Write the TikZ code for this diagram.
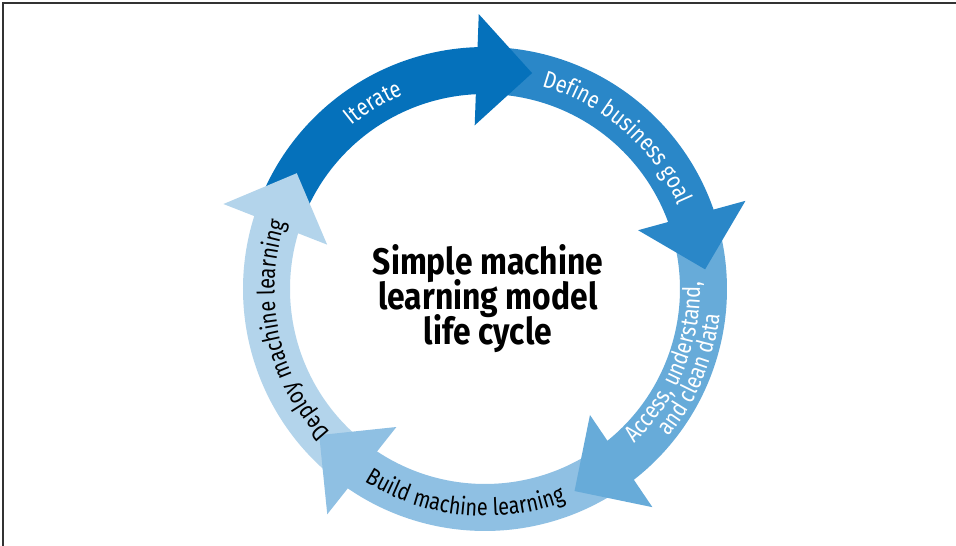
\documentclass[tikz,border=0pt]{standalone}
\usepackage{fontspec}
\setmainfont{Fira Sans}
\newfontfamily\lblfont{Fira Sans}[FakeStretch=0.83]
\newfontfamily\ttlfont{Fira Sans}[FakeStretch=0.86]
\usetikzlibrary{decorations.text}
\definecolor{cIter}{HTML}{0571BB}
\definecolor{cDef}{HTML}{2A87C8}
\definecolor{cAcc}{HTML}{67ABD9}
\definecolor{cBld}{HTML}{8FC0E3}
\definecolor{cDep}{HTML}{B3D4EB}
\definecolor{cFrame}{HTML}{333333}
\tikzset{
  frameline/.style={draw=cFrame, line width=1.8pt},
  ringlabel/.style={decorate, decoration={text along path, text align=center, text={#1}}},
}
\newcommand\lblW{|\lblfont\fontsize{24}{26}\selectfont\color{white}|}
\newcommand\lblB{|\lblfont\fontsize{24}{26}\selectfont\color{black}|}
\newcommand\ttlsetup{\ttlfont\bfseries\fontsize{37}{35}\selectfont\lineskiplimit=-40pt\lineskip=0pt\relax}
\begin{document}
\begin{tikzpicture}[x=1pt,y=1pt]
\useasboundingbox (-485,-257) rectangle (471,289);
\fill[white] (-485,-257) rectangle (471,289);
\draw[frameline] (-482,-257) -- (-482,286) -- (471,286);
% shafts
\foreach \col/\tpprev/\tp in {cIter/148.4/77.7, cDef/77.7/5.1, cAcc/5.1/-66.1, cBld/-66.1/-138.6, cDep/-138.6/-211.6}{
  \pgfmathsetmacro\st{\tpprev+7.5}
  \pgfmathsetmacro\en{\tp+13.5}
  \fill[\col] (\st:242) arc[start angle=\st, end angle=\en, radius=242]
     -- (\en:195) arc[start angle=\en, end angle=\st, radius=195] -- cycle;
}
% heads
\foreach \col/\tp in {cIter/77.7, cDef/5.1, cAcc/-66.1, cBld/-138.6, cDep/-211.6}{
  \pgfmathsetmacro\wo{\tp+13.6}
  \pgfmathsetmacro\wi{\tp+15.9}
  \fill[\col] (\wo:275) -- (\tp:221) -- (\wi:164) -- cycle;
}
% labels
\path[ringlabel={\lblW Iterate}] (181:210.5) arc[start angle=181, end angle=61, radius=210.5];
\path[ringlabel={\lblW Define business goal}] (108.9:210.5) arc[start angle=108.9, end angle=-11.1, radius=210.5];
\path[ringlabel={\lblW Access, understand,}] (-82:215) arc[start angle=-82, end angle=38, radius=215];
\path[ringlabel={\lblW and clean data}] (-82.5:236) arc[start angle=-82.5, end angle=37.5, radius=236];
\path[ringlabel={\lblB Build machine learning}] (-155.6:227) arc[start angle=-155.6, end angle=-35.6, radius=227];
\path[ringlabel={\lblB Deploy machine learning}] (252.2:210.5) arc[start angle=252.2, end angle=132.2, radius=210.5];
% title
\node[anchor=north, inner sep=0pt, align=center, font=\ttlsetup] (title) at (3,45)
  {Simple machine\\learning model\\life cycle};
\end{tikzpicture}
\end{document}
